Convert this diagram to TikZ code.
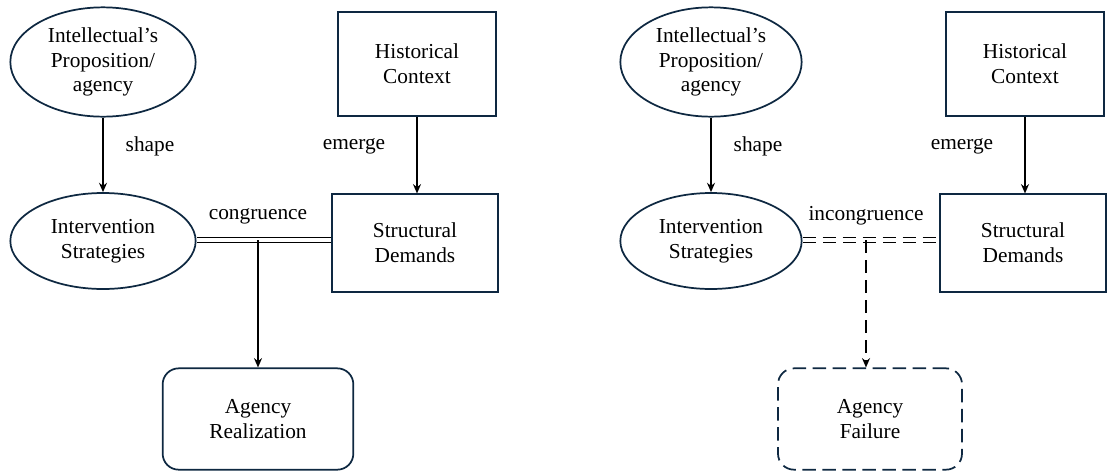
\documentclass[tikz,border=0pt]{standalone}
\usepackage{fontspec}
\setmainfont{Liberation Serif}
\usepackage{tikz}
\usetikzlibrary{calc}
\usetikzlibrary{positioning}
\usetikzlibrary{shapes.geometric}
\usetikzlibrary{arrows.meta}

\definecolor{navy}{HTML}{0E2841}

\begin{document}
\begin{tikzpicture}[x=0.75pt, y=-0.75pt,
		every node/.style={font=\fontsize{16}{18.5}\selectfont, align=center, inner sep=0pt},
		oval/.style={draw=navy, ellipse, line width=1.3pt, minimum width=139pt},
		block/.style={draw=navy, rectangle, line width=1.3pt, minimum width=118pt, minimum height=78pt},
		result/.style={draw=navy, rectangle, rounded corners=12pt, line width=1.3pt, minimum width=143pt, minimum height=76pt},
		broken/.style={dash pattern=on 10pt off 5pt},
		link/.style={draw, line width=1.2pt, -{Stealth[length=7pt, width=6pt]}},
		bond/.style={draw, line width=1.2pt, double, double distance=2.8pt}]
		\useasboundingbox (0, 0) rectangle (1118, 475);

		% left: congruence
		\node[oval, minimum height=82pt] (prop1) at (103, 62) {Intellectual's\\Proposition/\\agency};
		\node[block] (ctx1) at (417, 64) {Historical\\Context};
		\node[oval, minimum height=72pt] (int1) at (103, 241) {Intervention\\Strategies};
		\node[block, minimum width=124pt, minimum height=73pt] (dem1) at (415, 243) {Structural\\Demands};
		\node[result] (real1) at (258, 419) {Agency\\Realization};
		\coordinate (j1) at (258, 240);

		\path[link] (prop1.south) -- (int1.north);
		\path[link] (ctx1.south) -- (ctx1.south |- dem1.north);
		\path[bond] (int1.east |- j1) -- (dem1.west |- j1);
		\path[link] (j1) -- (real1.north);

		\node (shape1) at (150, 146) {shape};
		\node (emerge1) at (354, 146) {emerge};
		\node (cong1) at (258, 216) {congruence};

		% right: incongruence
		\node[oval, minimum height=82pt, minimum width=136pt] (prop2) at (711, 62) {Intellectual's\\Proposition/\\agency};
		\node[block] (ctx2) at (1025, 64) {Historical\\Context};
		\node[oval, minimum height=72pt, minimum width=136pt] (int2) at (711, 241) {Intervention\\Strategies};
		\node[block, minimum width=124pt, minimum height=73pt] (dem2) at (1023, 243) {Structural\\Demands};
		\node[result, broken, minimum width=138pt] (fail2) at (870, 419) {Agency\\Failure};
		\coordinate (j2) at (866, 240);

		\path[link] (prop2.south) -- (int2.north);
		\path[link] (ctx2.south) -- (ctx2.south |- dem2.north);
		\path[bond, broken] (int2.east |- j2) -- (dem2.west |- j2);
		\path[link, broken] (j2) -- (j2 |- fail2.north);

		\node (shape2) at (758, 146) {shape};
		\node (emerge2) at (962, 146) {emerge};
		\node (cong2) at (866, 216) {incongruence};
\end{tikzpicture}
\end{document}
